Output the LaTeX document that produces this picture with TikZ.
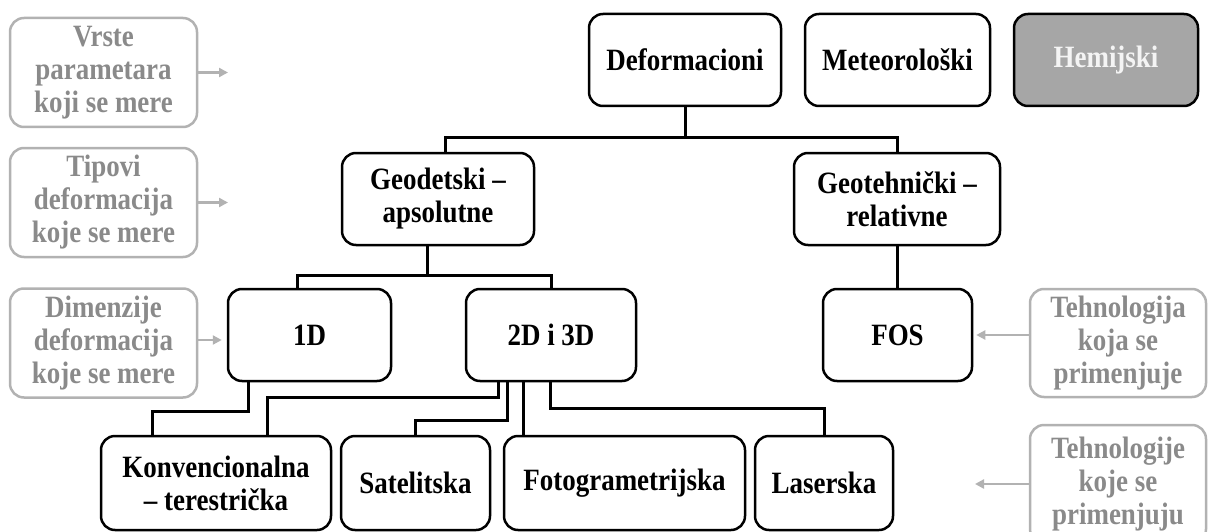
\documentclass[tikz,border=0pt]{standalone}
\usepackage{fontspec}
\setmainfont{Liberation Serif}[FakeStretch=0.87]
\usetikzlibrary{arrows.meta,positioning}
\definecolor{ink}{HTML}{000000}
\definecolor{hinttext}{HTML}{8A8A8A}
\definecolor{hintline}{HTML}{B2B2B2}
\definecolor{shade}{HTML}{A6A6A6}
\definecolor{paper}{HTML}{F4F4F4}

\begin{document}
\begin{tikzpicture}[x=1pt,y=-1pt,
  box/.style={draw=ink,line width=2.5pt,rounded corners=14pt,align=center,
    font=\bfseries\fontsize{31}{33}\selectfont,minimum height=92pt,inner sep=0pt},
  hint/.style={draw=hintline,line width=2.5pt,rounded corners=14pt,align=center,text=hinttext,
    font=\bfseries\fontsize{31}{33}\selectfont,minimum width=187pt,minimum height=109pt,inner sep=0pt},
  link/.style={draw=ink,line width=3pt},
  pointer/.style={draw=hintline,line width=2.5pt,-{Triangle[length=9pt,width=9pt]}}]
\useasboundingbox (0,0) rectangle (1209,532);

% kinds of measured parameters
\node[box,minimum width=192pt] (def) at (685,60) {Deformacioni};
\node[box,minimum width=185pt] (met) at (897.5,60) {Meteorološki};
\node[box,minimum width=184pt,fill=shade,text=paper] (hem) at (1106,60) {Hemijski};

% deformation types
\node[box,minimum width=192pt] (geod) at (438,199) {Geodetski –\\apsolutne};
\node[box,minimum width=206pt] (geot) at (897,199) {Geotehnički –\\relativne};

% dimensions and technologies
\node[box,minimum width=163pt] (oned) at (309.5,335) {1D};
\node[box,minimum width=170pt] (twod) at (551,335) {2D i 3D};
\node[box,minimum width=149pt] (fos) at (897.5,335) {FOS};

\node[box,minimum width=230pt,minimum height=94pt] (konv) at (216,483) {Konvencionalna\\– terestrička};
\node[box,minimum width=149pt,minimum height=94pt] (sat) at (415.5,483) {Satelitska};
\node[box,minimum width=241pt,minimum height=94pt] (foto) at (624.5,483) {Fotogrametrijska};
\node[box,minimum width=138pt,minimum height=94pt] (laser) at (824,483) {Laserska};

% tree links
\coordinate (j1) at (685,137);
\draw[link] (def.south) -- (j1) -| (geot.north);
\draw[link] (j1) -| ([xshift=7pt]geod.north);
\coordinate (j2) at (427,275);
\draw[link] ([xshift=-11pt]geod.south) -- (j2) -| ([xshift=-12pt]oned.north);
\draw[link] (j2) -| (twod.north);
\draw[link] (geot.south) -- (geot.south |- fos.north);

\draw[link] ([xshift=-61pt]oned.south) -- ++(0,29) -| ([xshift=-64pt]konv.north);
\draw[link] ([xshift=-53pt]twod.south) -- ++(0,15) -| ([xshift=51pt]konv.north);
\draw[link] ([xshift=-44pt]twod.south) -- ++(0,38) -| (sat.north);
\draw[link] ([xshift=-28pt]twod.south) -- ([xshift=-28pt]twod.south |- foto.north);
\draw[link] ([xshift=-1pt]twod.south) -- ++(0,26) -| (laser.north);

% side notes
\foreach \name/\ypos/\txt in {h1/72.5/{Vrste\\parametara\\koji se mere},
    h2/202.5/{Tipovi\\deformacija\\koje se mere},h3/343/{Dimenzije\\deformacija\\koje se mere}}
  \node[hint] (\name) at (103.5,\ypos) {\txt};
\coordinate (h1tip) at (228,72.5);
\coordinate (h2tip) at (228,202.5);
\draw[pointer] (h1.east) -- (h1tip);
\draw[pointer] (h2.east) -- (h2tip);
\draw[pointer,shorten >=5pt] ([yshift=3pt]h3.east) -- ([yshift=3pt]h3.east -| oned.west);

\node[hint,minimum width=176pt,minimum height=108pt] (h4) at (1118,343) {Tehnologija\\koja se\\primenjuje};
\node[hint,minimum width=176pt,minimum height=118pt] (h5) at (1118,484) {Tehnologije\\koje se\\primenjuju};
\coordinate (h5tip) at (975,484);
\draw[pointer,shorten >=3pt] (h4.west |- fos.east) -- (fos.east);
\draw[pointer] (h5.west) -- (h5tip);
\end{tikzpicture}
\end{document}
